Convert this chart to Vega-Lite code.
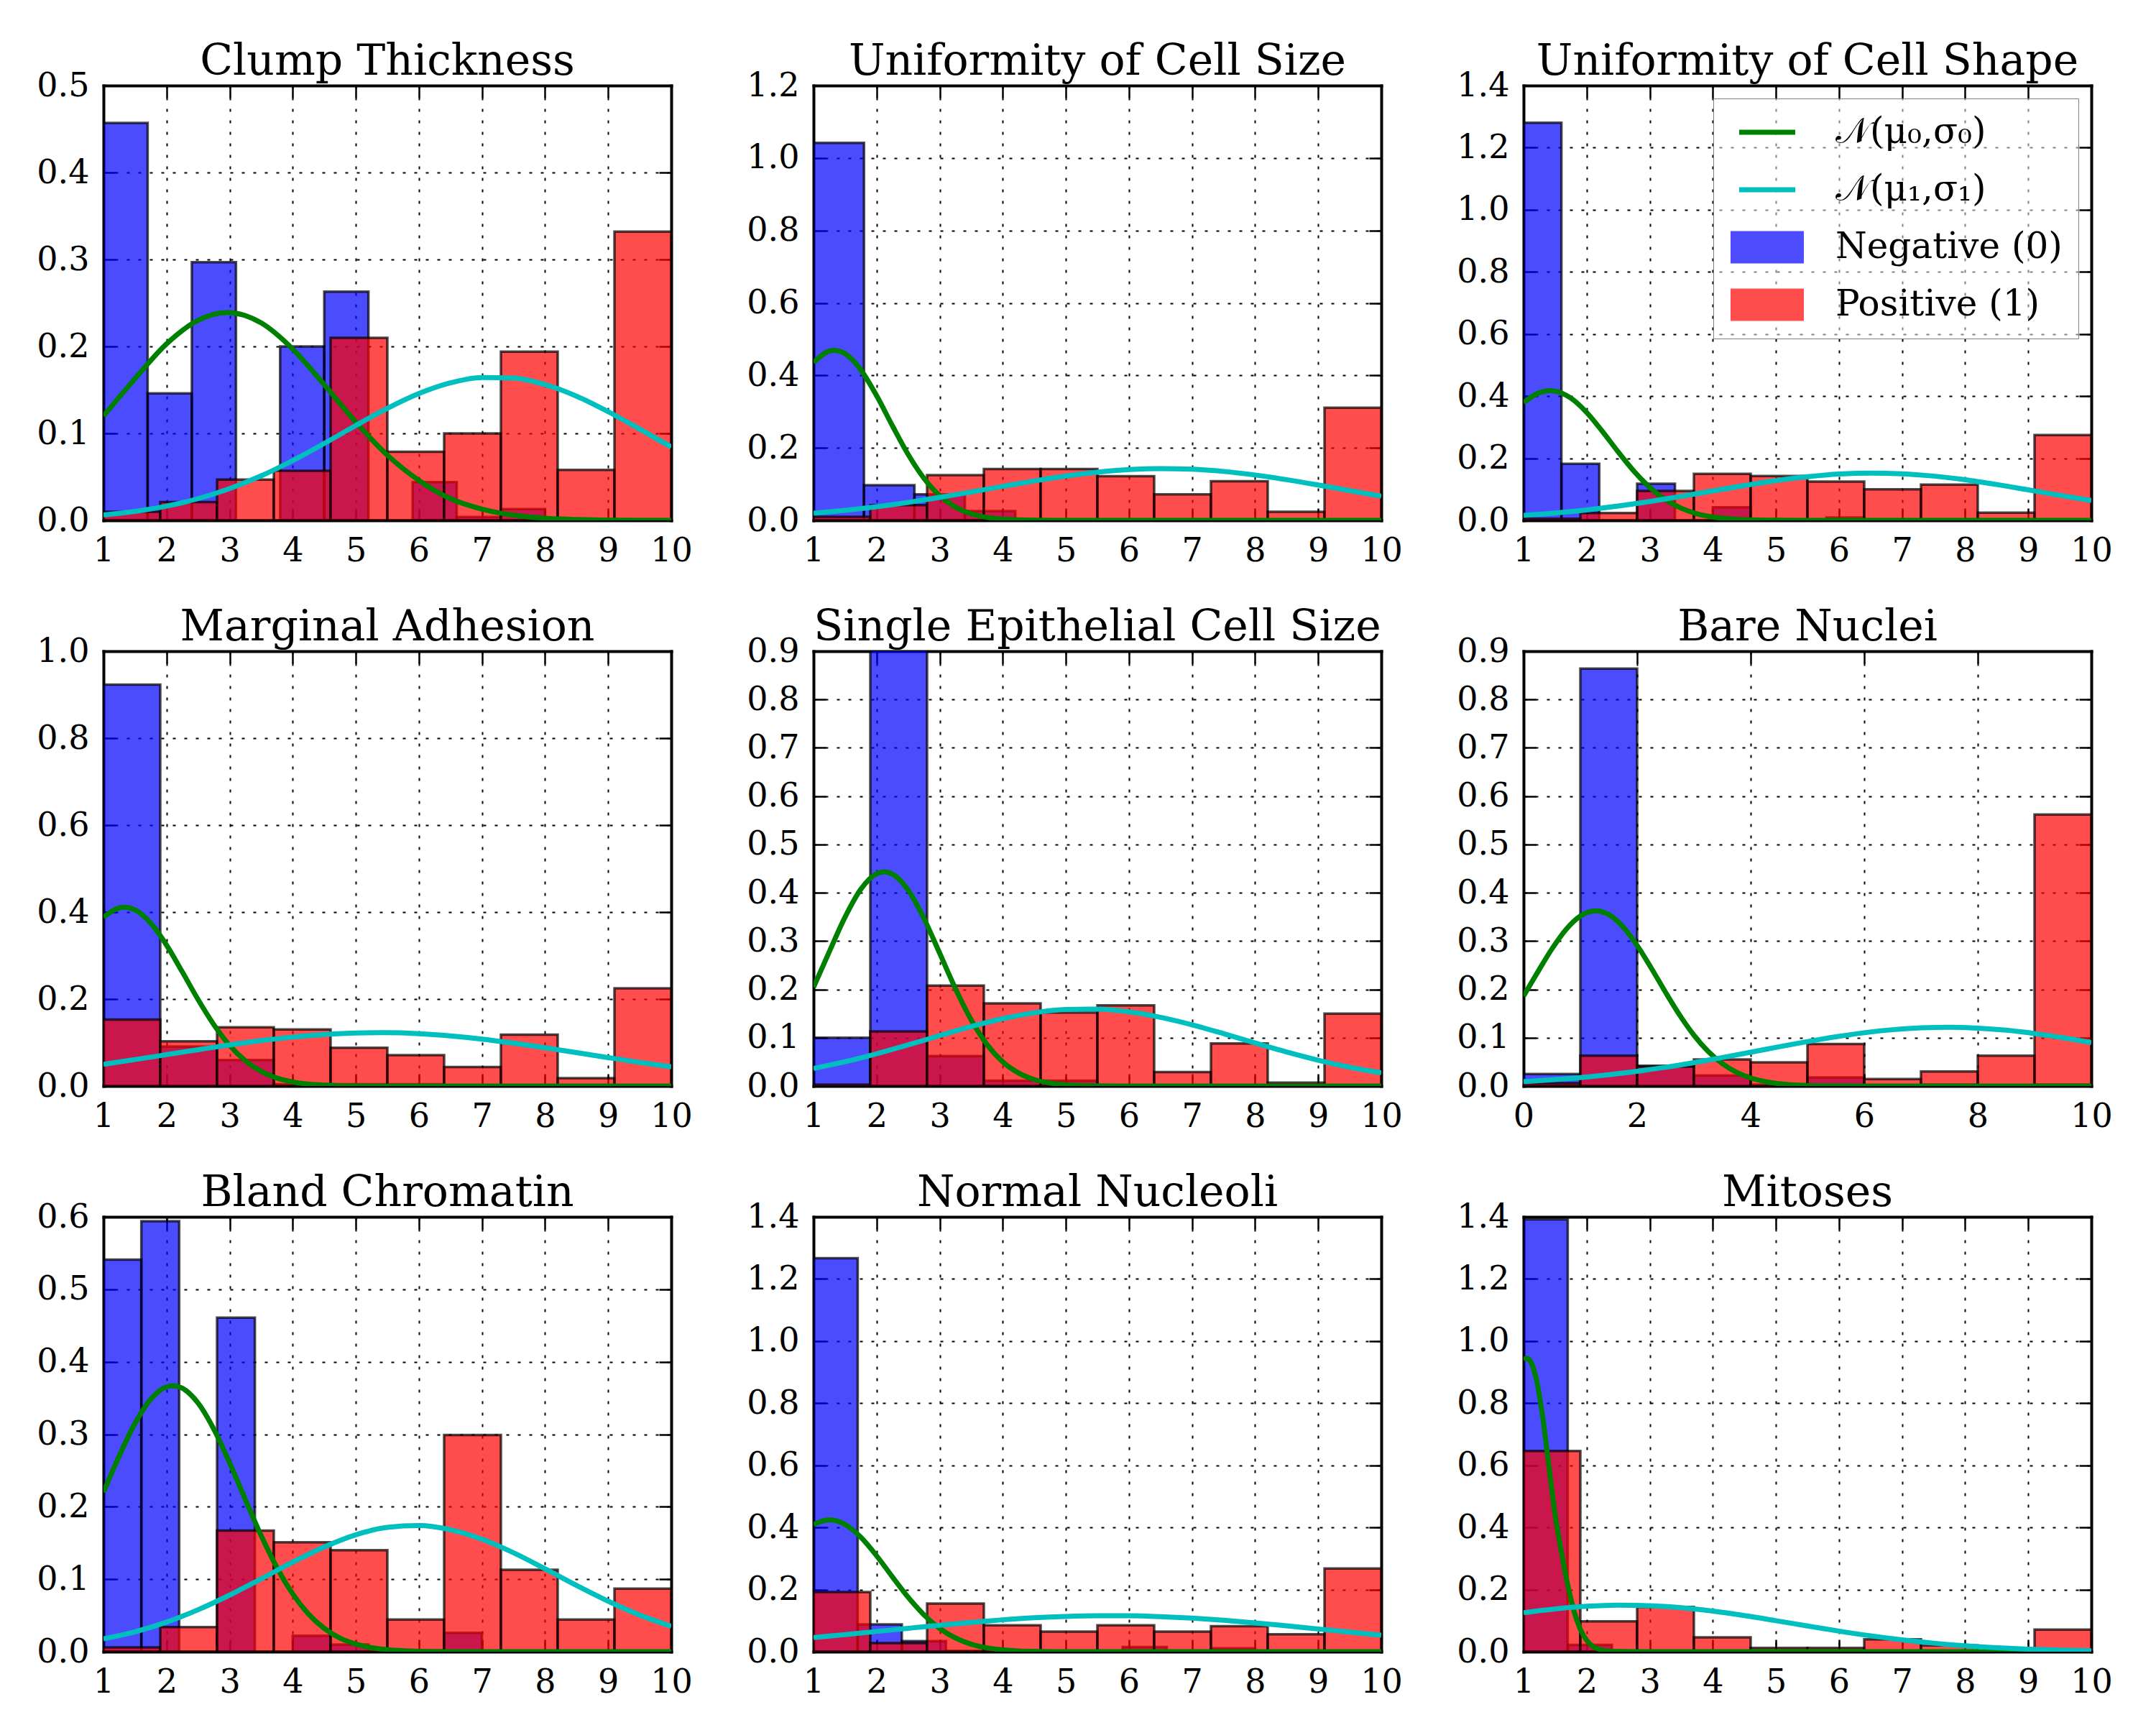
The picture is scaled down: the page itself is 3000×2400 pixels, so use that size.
{
  "$schema": "https://vega.github.io/schema/vega-lite/v6.json",
  "background": "white",
  "padding": {"left": 50, "top": 56, "right": 10, "bottom": 10},
  "columns": 3,
  "spacing": {"row": 182, "column": 198},
  "bounds": "flush",
  "resolve": {
    "scale": {"color": "independent", "shape": "independent", "x": "independent", "y": "independent"},
    "legend": {"color": "independent", "shape": "independent"}
  },
  "datasets": {
    "bars": [
      {"f": "ct", "cls": "Negative (0)", "a": 1, "b": 1.7, "v": 0.457},
      {"f": "ct", "cls": "Negative (0)", "a": 1.7, "b": 2.4, "v": 0.146},
      {"f": "ct", "cls": "Negative (0)", "a": 2.4, "b": 3.1, "v": 0.297},
      {"f": "ct", "cls": "Negative (0)", "a": 3.8, "b": 4.5, "v": 0.2},
      {"f": "ct", "cls": "Negative (0)", "a": 4.5, "b": 5.2, "v": 0.263},
      {"f": "ct", "cls": "Negative (0)", "a": 5.9, "b": 6.6, "v": 0.044},
      {"f": "ct", "cls": "Negative (0)", "a": 6.6, "b": 7.3, "v": 0.004},
      {"f": "ct", "cls": "Negative (0)", "a": 7.3, "b": 8.0, "v": 0.013},
      {"f": "ct", "cls": "Positive (1)", "a": 1, "b": 1.9, "v": 0.01},
      {"f": "ct", "cls": "Positive (1)", "a": 1.9, "b": 2.8, "v": 0.021},
      {"f": "ct", "cls": "Positive (1)", "a": 2.8, "b": 3.7, "v": 0.047},
      {"f": "ct", "cls": "Positive (1)", "a": 3.7, "b": 4.6, "v": 0.057},
      {"f": "ct", "cls": "Positive (1)", "a": 4.6, "b": 5.5, "v": 0.21},
      {"f": "ct", "cls": "Positive (1)", "a": 5.5, "b": 6.4, "v": 0.079},
      {"f": "ct", "cls": "Positive (1)", "a": 6.4, "b": 7.3, "v": 0.1},
      {"f": "ct", "cls": "Positive (1)", "a": 7.3, "b": 8.2, "v": 0.194},
      {"f": "ct", "cls": "Positive (1)", "a": 8.2, "b": 9.1, "v": 0.058},
      {"f": "ct", "cls": "Positive (1)", "a": 9.1, "b": 10, "v": 0.332},

      {"f": "usz", "cls": "Negative (0)", "a": 1, "b": 1.8, "v": 1.042},
      {"f": "usz", "cls": "Negative (0)", "a": 1.8, "b": 2.6, "v": 0.097},
      {"f": "usz", "cls": "Negative (0)", "a": 2.6, "b": 3.4, "v": 0.072},
      {"f": "usz", "cls": "Negative (0)", "a": 3.4, "b": 4.2, "v": 0.026},
      {"f": "usz", "cls": "Positive (1)", "a": 1, "b": 1.9, "v": 0.01},
      {"f": "usz", "cls": "Positive (1)", "a": 1.9, "b": 2.8, "v": 0.042},
      {"f": "usz", "cls": "Positive (1)", "a": 2.8, "b": 3.7, "v": 0.125},
      {"f": "usz", "cls": "Positive (1)", "a": 3.7, "b": 4.6, "v": 0.142},
      {"f": "usz", "cls": "Positive (1)", "a": 4.6, "b": 5.5, "v": 0.142},
      {"f": "usz", "cls": "Positive (1)", "a": 5.5, "b": 6.4, "v": 0.122},
      {"f": "usz", "cls": "Positive (1)", "a": 6.4, "b": 7.3, "v": 0.072},
      {"f": "usz", "cls": "Positive (1)", "a": 7.3, "b": 8.2, "v": 0.108},
      {"f": "usz", "cls": "Positive (1)", "a": 8.2, "b": 9.1, "v": 0.024},
      {"f": "usz", "cls": "Positive (1)", "a": 9.1, "b": 10, "v": 0.311},

      {"f": "ush", "cls": "Negative (0)", "a": 1, "b": 1.6, "v": 1.28},
      {"f": "ush", "cls": "Negative (0)", "a": 1.6, "b": 2.2, "v": 0.182},
      {"f": "ush", "cls": "Negative (0)", "a": 2.8, "b": 3.4, "v": 0.118},
      {"f": "ush", "cls": "Negative (0)", "a": 4.0, "b": 4.6, "v": 0.042},
      {"f": "ush", "cls": "Negative (0)", "a": 4.6, "b": 5.2, "v": 0.003},
      {"f": "ush", "cls": "Negative (0)", "a": 5.8, "b": 6.4, "v": 0.009},
      {"f": "ush", "cls": "Positive (1)", "a": 1, "b": 1.9, "v": 0.005},
      {"f": "ush", "cls": "Positive (1)", "a": 1.9, "b": 2.8, "v": 0.024},
      {"f": "ush", "cls": "Positive (1)", "a": 2.8, "b": 3.7, "v": 0.095},
      {"f": "ush", "cls": "Positive (1)", "a": 3.7, "b": 4.6, "v": 0.15},
      {"f": "ush", "cls": "Positive (1)", "a": 4.6, "b": 5.5, "v": 0.143},
      {"f": "ush", "cls": "Positive (1)", "a": 5.5, "b": 6.4, "v": 0.125},
      {"f": "ush", "cls": "Positive (1)", "a": 6.4, "b": 7.3, "v": 0.1},
      {"f": "ush", "cls": "Positive (1)", "a": 7.3, "b": 8.2, "v": 0.115},
      {"f": "ush", "cls": "Positive (1)", "a": 8.2, "b": 9.1, "v": 0.025},
      {"f": "ush", "cls": "Positive (1)", "a": 9.1, "b": 10, "v": 0.275},

      {"f": "ma", "cls": "Negative (0)", "a": 1, "b": 1.9, "v": 0.923},
      {"f": "ma", "cls": "Negative (0)", "a": 1.9, "b": 2.8, "v": 0.091},
      {"f": "ma", "cls": "Negative (0)", "a": 2.8, "b": 3.7, "v": 0.06},
      {"f": "ma", "cls": "Negative (0)", "a": 3.7, "b": 4.6, "v": 0.004},
      {"f": "ma", "cls": "Negative (0)", "a": 4.6, "b": 5.5, "v": 0.004},
      {"f": "ma", "cls": "Negative (0)", "a": 5.5, "b": 6.4, "v": 0.004},
      {"f": "ma", "cls": "Positive (1)", "a": 1, "b": 1.9, "v": 0.153},
      {"f": "ma", "cls": "Positive (1)", "a": 1.9, "b": 2.8, "v": 0.103},
      {"f": "ma", "cls": "Positive (1)", "a": 2.8, "b": 3.7, "v": 0.135},
      {"f": "ma", "cls": "Positive (1)", "a": 3.7, "b": 4.6, "v": 0.13},
      {"f": "ma", "cls": "Positive (1)", "a": 4.6, "b": 5.5, "v": 0.088},
      {"f": "ma", "cls": "Positive (1)", "a": 5.5, "b": 6.4, "v": 0.071},
      {"f": "ma", "cls": "Positive (1)", "a": 6.4, "b": 7.3, "v": 0.044},
      {"f": "ma", "cls": "Positive (1)", "a": 7.3, "b": 8.2, "v": 0.118},
      {"f": "ma", "cls": "Positive (1)", "a": 8.2, "b": 9.1, "v": 0.018},
      {"f": "ma", "cls": "Positive (1)", "a": 9.1, "b": 10, "v": 0.225},

      {"f": "se", "cls": "Negative (0)", "a": 1, "b": 1.9, "v": 0.1},
      {"f": "se", "cls": "Negative (0)", "a": 1.9, "b": 2.8, "v": 0.93},
      {"f": "se", "cls": "Negative (0)", "a": 2.8, "b": 3.7, "v": 0.062},
      {"f": "se", "cls": "Negative (0)", "a": 3.7, "b": 4.6, "v": 0.011},
      {"f": "se", "cls": "Negative (0)", "a": 4.6, "b": 5.5, "v": 0.011},
      {"f": "se", "cls": "Negative (0)", "a": 5.5, "b": 6.4, "v": 0.002},
      {"f": "se", "cls": "Positive (1)", "a": 1, "b": 1.9, "v": 0.003},
      {"f": "se", "cls": "Positive (1)", "a": 1.9, "b": 2.8, "v": 0.113},
      {"f": "se", "cls": "Positive (1)", "a": 2.8, "b": 3.7, "v": 0.208},
      {"f": "se", "cls": "Positive (1)", "a": 3.7, "b": 4.6, "v": 0.171},
      {"f": "se", "cls": "Positive (1)", "a": 4.6, "b": 5.5, "v": 0.152},
      {"f": "se", "cls": "Positive (1)", "a": 5.5, "b": 6.4, "v": 0.167},
      {"f": "se", "cls": "Positive (1)", "a": 6.4, "b": 7.3, "v": 0.029},
      {"f": "se", "cls": "Positive (1)", "a": 7.3, "b": 8.2, "v": 0.088},
      {"f": "se", "cls": "Positive (1)", "a": 8.2, "b": 9.1, "v": 0.007},
      {"f": "se", "cls": "Positive (1)", "a": 9.1, "b": 10, "v": 0.15},

      {"f": "bn", "cls": "Negative (0)", "a": 0, "b": 1, "v": 0.025},
      {"f": "bn", "cls": "Negative (0)", "a": 1, "b": 2, "v": 0.864},
      {"f": "bn", "cls": "Negative (0)", "a": 2, "b": 3, "v": 0.042},
      {"f": "bn", "cls": "Negative (0)", "a": 3, "b": 4, "v": 0.022},
      {"f": "bn", "cls": "Negative (0)", "a": 4, "b": 5, "v": 0.003},
      {"f": "bn", "cls": "Negative (0)", "a": 5, "b": 6, "v": 0.018},
      {"f": "bn", "cls": "Negative (0)", "a": 7, "b": 8, "v": 0.003},
      {"f": "bn", "cls": "Negative (0)", "a": 9, "b": 10, "v": 0.003},
      {"f": "bn", "cls": "Positive (1)", "a": 0, "b": 1, "v": 0.006},
      {"f": "bn", "cls": "Positive (1)", "a": 1, "b": 2, "v": 0.063},
      {"f": "bn", "cls": "Positive (1)", "a": 2, "b": 3, "v": 0.04},
      {"f": "bn", "cls": "Positive (1)", "a": 3, "b": 4, "v": 0.055},
      {"f": "bn", "cls": "Positive (1)", "a": 4, "b": 5, "v": 0.049},
      {"f": "bn", "cls": "Positive (1)", "a": 5, "b": 6, "v": 0.087},
      {"f": "bn", "cls": "Positive (1)", "a": 6, "b": 7, "v": 0.0145},
      {"f": "bn", "cls": "Positive (1)", "a": 7, "b": 8, "v": 0.03},
      {"f": "bn", "cls": "Positive (1)", "a": 8, "b": 9, "v": 0.063},
      {"f": "bn", "cls": "Positive (1)", "a": 9, "b": 10, "v": 0.562},

      {"f": "bc", "cls": "Negative (0)", "a": 1, "b": 1.6, "v": 0.541},
      {"f": "bc", "cls": "Negative (0)", "a": 1.6, "b": 2.2, "v": 0.594},
      {"f": "bc", "cls": "Negative (0)", "a": 2.8, "b": 3.4, "v": 0.461},
      {"f": "bc", "cls": "Negative (0)", "a": 4.0, "b": 4.6, "v": 0.022},
      {"f": "bc", "cls": "Negative (0)", "a": 4.6, "b": 5.2, "v": 0.01},
      {"f": "bc", "cls": "Negative (0)", "a": 5.8, "b": 6.4, "v": 0.002},
      {"f": "bc", "cls": "Negative (0)", "a": 6.4, "b": 7.0, "v": 0.026},
      {"f": "bc", "cls": "Positive (1)", "a": 1, "b": 1.9, "v": 0.006},
      {"f": "bc", "cls": "Positive (1)", "a": 1.9, "b": 2.8, "v": 0.034},
      {"f": "bc", "cls": "Positive (1)", "a": 2.8, "b": 3.7, "v": 0.167},
      {"f": "bc", "cls": "Positive (1)", "a": 3.7, "b": 4.6, "v": 0.151},
      {"f": "bc", "cls": "Positive (1)", "a": 4.6, "b": 5.5, "v": 0.14},
      {"f": "bc", "cls": "Positive (1)", "a": 5.5, "b": 6.4, "v": 0.0445},
      {"f": "bc", "cls": "Positive (1)", "a": 6.4, "b": 7.3, "v": 0.299},
      {"f": "bc", "cls": "Positive (1)", "a": 7.3, "b": 8.2, "v": 0.113},
      {"f": "bc", "cls": "Positive (1)", "a": 8.2, "b": 9.1, "v": 0.0445},
      {"f": "bc", "cls": "Positive (1)", "a": 9.1, "b": 10, "v": 0.087},

      {"f": "nn", "cls": "Negative (0)", "a": 1, "b": 1.7, "v": 1.267},
      {"f": "nn", "cls": "Negative (0)", "a": 1.7, "b": 2.4, "v": 0.088},
      {"f": "nn", "cls": "Negative (0)", "a": 2.4, "b": 3.1, "v": 0.034},
      {"f": "nn", "cls": "Negative (0)", "a": 3.1, "b": 3.8, "v": 0.003},
      {"f": "nn", "cls": "Negative (0)", "a": 5.9, "b": 6.6, "v": 0.015},
      {"f": "nn", "cls": "Negative (0)", "a": 7.3, "b": 8.0, "v": 0.011},
      {"f": "nn", "cls": "Positive (1)", "a": 1, "b": 1.9, "v": 0.192},
      {"f": "nn", "cls": "Positive (1)", "a": 1.9, "b": 2.8, "v": 0.028},
      {"f": "nn", "cls": "Positive (1)", "a": 2.8, "b": 3.7, "v": 0.155},
      {"f": "nn", "cls": "Positive (1)", "a": 3.7, "b": 4.6, "v": 0.085},
      {"f": "nn", "cls": "Positive (1)", "a": 4.6, "b": 5.5, "v": 0.065},
      {"f": "nn", "cls": "Positive (1)", "a": 5.5, "b": 6.4, "v": 0.085},
      {"f": "nn", "cls": "Positive (1)", "a": 6.4, "b": 7.3, "v": 0.065},
      {"f": "nn", "cls": "Positive (1)", "a": 7.3, "b": 8.2, "v": 0.082},
      {"f": "nn", "cls": "Positive (1)", "a": 8.2, "b": 9.1, "v": 0.056},
      {"f": "nn", "cls": "Positive (1)", "a": 9.1, "b": 10, "v": 0.268},

      {"f": "mi", "cls": "Negative (0)", "a": 1, "b": 1.7, "v": 1.392},
      {"f": "mi", "cls": "Negative (0)", "a": 1.7, "b": 2.4, "v": 0.022},
      {"f": "mi", "cls": "Positive (1)", "a": 1, "b": 1.9, "v": 0.646},
      {"f": "mi", "cls": "Positive (1)", "a": 1.9, "b": 2.8, "v": 0.098},
      {"f": "mi", "cls": "Positive (1)", "a": 2.8, "b": 3.7, "v": 0.144},
      {"f": "mi", "cls": "Positive (1)", "a": 3.7, "b": 4.6, "v": 0.046},
      {"f": "mi", "cls": "Positive (1)", "a": 4.6, "b": 5.5, "v": 0.0124},
      {"f": "mi", "cls": "Positive (1)", "a": 5.5, "b": 6.4, "v": 0.0124},
      {"f": "mi", "cls": "Positive (1)", "a": 6.4, "b": 7.3, "v": 0.04},
      {"f": "mi", "cls": "Positive (1)", "a": 7.3, "b": 8.2, "v": 0.02},
      {"f": "mi", "cls": "Positive (1)", "a": 9.1, "b": 10, "v": 0.071}
    ],
    "curves": [
      {"f": "ct", "c": "N0", "x": 1, "y": 0.12}, {"f": "ct", "c": "N0", "x": 1.5, "y": 0.163}, {"f": "ct", "c": "N0", "x": 2, "y": 0.203},
      {"f": "ct", "c": "N0", "x": 2.5, "y": 0.23}, {"f": "ct", "c": "N0", "x": 2.96, "y": 0.239}, {"f": "ct", "c": "N0", "x": 3.5, "y": 0.227},
      {"f": "ct", "c": "N0", "x": 4, "y": 0.197}, {"f": "ct", "c": "N0", "x": 4.5, "y": 0.156}, {"f": "ct", "c": "N0", "x": 5, "y": 0.113},
      {"f": "ct", "c": "N0", "x": 5.5, "y": 0.075}, {"f": "ct", "c": "N0", "x": 6, "y": 0.046}, {"f": "ct", "c": "N0", "x": 6.5, "y": 0.025},
      {"f": "ct", "c": "N0", "x": 7, "y": 0.013}, {"f": "ct", "c": "N0", "x": 7.5, "y": 0.006}, {"f": "ct", "c": "N0", "x": 8, "y": 0.0025},
      {"f": "ct", "c": "N0", "x": 8.5, "y": 0.001}, {"f": "ct", "c": "N0", "x": 9, "y": 0.0003}, {"f": "ct", "c": "N0", "x": 10, "y": 0},
      {"f": "ct", "c": "N1", "x": 1, "y": 0.0062}, {"f": "ct", "c": "N1", "x": 1.5, "y": 0.0103}, {"f": "ct", "c": "N1", "x": 2, "y": 0.0164},
      {"f": "ct", "c": "N1", "x": 2.5, "y": 0.025}, {"f": "ct", "c": "N1", "x": 3, "y": 0.0366}, {"f": "ct", "c": "N1", "x": 3.5, "y": 0.0512},
      {"f": "ct", "c": "N1", "x": 4, "y": 0.0688}, {"f": "ct", "c": "N1", "x": 4.5, "y": 0.0885}, {"f": "ct", "c": "N1", "x": 5, "y": 0.1091},
      {"f": "ct", "c": "N1", "x": 5.5, "y": 0.1288}, {"f": "ct", "c": "N1", "x": 6, "y": 0.1458}, {"f": "ct", "c": "N1", "x": 6.5, "y": 0.1581},
      {"f": "ct", "c": "N1", "x": 7, "y": 0.1643}, {"f": "ct", "c": "N1", "x": 7.5, "y": 0.1636}, {"f": "ct", "c": "N1", "x": 8, "y": 0.1561},
      {"f": "ct", "c": "N1", "x": 8.5, "y": 0.1428}, {"f": "ct", "c": "N1", "x": 9, "y": 0.125}, {"f": "ct", "c": "N1", "x": 9.5, "y": 0.105},
      {"f": "ct", "c": "N1", "x": 10, "y": 0.0844},

      {"f": "usz", "c": "N0", "x": 1, "y": 0.4352}, {"f": "usz", "c": "N0", "x": 1.25, "y": 0.4672}, {"f": "usz", "c": "N0", "x": 1.33, "y": 0.4693},
      {"f": "usz", "c": "N0", "x": 1.5, "y": 0.46}, {"f": "usz", "c": "N0", "x": 1.75, "y": 0.4154}, {"f": "usz", "c": "N0", "x": 2, "y": 0.344},
      {"f": "usz", "c": "N0", "x": 2.25, "y": 0.2613}, {"f": "usz", "c": "N0", "x": 2.5, "y": 0.182}, {"f": "usz", "c": "N0", "x": 2.75, "y": 0.1162},
      {"f": "usz", "c": "N0", "x": 3, "y": 0.0681}, {"f": "usz", "c": "N0", "x": 3.25, "y": 0.0366}, {"f": "usz", "c": "N0", "x": 3.5, "y": 0.018},
      {"f": "usz", "c": "N0", "x": 3.75, "y": 0.0082}, {"f": "usz", "c": "N0", "x": 4, "y": 0.0034}, {"f": "usz", "c": "N0", "x": 4.5, "y": 0.0004},
      {"f": "usz", "c": "N0", "x": 5, "y": 0}, {"f": "usz", "c": "N0", "x": 10, "y": 0},
      {"f": "usz", "c": "N1", "x": 1, "y": 0.0196}, {"f": "usz", "c": "N1", "x": 1.5, "y": 0.0276}, {"f": "usz", "c": "N1", "x": 2, "y": 0.0376},
      {"f": "usz", "c": "N1", "x": 2.5, "y": 0.0496}, {"f": "usz", "c": "N1", "x": 3, "y": 0.0634}, {"f": "usz", "c": "N1", "x": 3.5, "y": 0.0784},
      {"f": "usz", "c": "N1", "x": 4, "y": 0.0939}, {"f": "usz", "c": "N1", "x": 4.5, "y": 0.1089}, {"f": "usz", "c": "N1", "x": 5, "y": 0.1223},
      {"f": "usz", "c": "N1", "x": 5.5, "y": 0.133}, {"f": "usz", "c": "N1", "x": 6, "y": 0.1401}, {"f": "usz", "c": "N1", "x": 6.5, "y": 0.143},
      {"f": "usz", "c": "N1", "x": 7, "y": 0.1412}, {"f": "usz", "c": "N1", "x": 7.5, "y": 0.1351}, {"f": "usz", "c": "N1", "x": 8, "y": 0.1252},
      {"f": "usz", "c": "N1", "x": 8.5, "y": 0.1123}, {"f": "usz", "c": "N1", "x": 9, "y": 0.0976}, {"f": "usz", "c": "N1", "x": 9.5, "y": 0.0821},
      {"f": "usz", "c": "N1", "x": 10, "y": 0.0669},

      {"f": "ush", "c": "N0", "x": 1, "y": 0.3792}, {"f": "ush", "c": "N0", "x": 1.25, "y": 0.4111}, {"f": "ush", "c": "N0", "x": 1.42, "y": 0.4177},
      {"f": "ush", "c": "N0", "x": 1.5, "y": 0.4162}, {"f": "ush", "c": "N0", "x": 1.75, "y": 0.3935}, {"f": "ush", "c": "N0", "x": 2, "y": 0.3474},
      {"f": "ush", "c": "N0", "x": 2.25, "y": 0.2863}, {"f": "ush", "c": "N0", "x": 2.5, "y": 0.2204}, {"f": "ush", "c": "N0", "x": 2.75, "y": 0.1584},
      {"f": "ush", "c": "N0", "x": 3, "y": 0.1063}, {"f": "ush", "c": "N0", "x": 3.25, "y": 0.0666}, {"f": "ush", "c": "N0", "x": 3.5, "y": 0.039},
      {"f": "ush", "c": "N0", "x": 3.75, "y": 0.0213}, {"f": "ush", "c": "N0", "x": 4, "y": 0.0109}, {"f": "ush", "c": "N0", "x": 4.25, "y": 0.0052},
      {"f": "ush", "c": "N0", "x": 4.5, "y": 0.0023}, {"f": "ush", "c": "N0", "x": 5, "y": 0.0004}, {"f": "ush", "c": "N0", "x": 5.5, "y": 0},
      {"f": "ush", "c": "N0", "x": 10, "y": 0},
      {"f": "ush", "c": "N1", "x": 1, "y": 0.0162}, {"f": "ush", "c": "N1", "x": 1.5, "y": 0.0238}, {"f": "ush", "c": "N1", "x": 2, "y": 0.0337},
      {"f": "ush", "c": "N1", "x": 2.5, "y": 0.0461}, {"f": "ush", "c": "N1", "x": 3, "y": 0.0608}, {"f": "ush", "c": "N1", "x": 3.5, "y": 0.0774},
      {"f": "ush", "c": "N1", "x": 4, "y": 0.0949}, {"f": "ush", "c": "N1", "x": 4.5, "y": 0.1121}, {"f": "ush", "c": "N1", "x": 5, "y": 0.1279},
      {"f": "ush", "c": "N1", "x": 5.5, "y": 0.1405}, {"f": "ush", "c": "N1", "x": 6, "y": 0.149}, {"f": "ush", "c": "N1", "x": 6.5, "y": 0.1523},
      {"f": "ush", "c": "N1", "x": 7, "y": 0.1501}, {"f": "ush", "c": "N1", "x": 7.5, "y": 0.1426}, {"f": "ush", "c": "N1", "x": 8, "y": 0.1307},
      {"f": "ush", "c": "N1", "x": 8.5, "y": 0.1154}, {"f": "ush", "c": "N1", "x": 9, "y": 0.0984}, {"f": "ush", "c": "N1", "x": 9.5, "y": 0.0808},
      {"f": "ush", "c": "N1", "x": 10, "y": 0.064},

      {"f": "ma", "c": "N0", "x": 1, "y": 0.3882}, {"f": "ma", "c": "N0", "x": 1.25, "y": 0.4099}, {"f": "ma", "c": "N0", "x": 1.33, "y": 0.4113},
      {"f": "ma", "c": "N0", "x": 1.5, "y": 0.405}, {"f": "ma", "c": "N0", "x": 1.75, "y": 0.3745}, {"f": "ma", "c": "N0", "x": 2, "y": 0.324},
      {"f": "ma", "c": "N0", "x": 2.25, "y": 0.2623}, {"f": "ma", "c": "N0", "x": 2.5, "y": 0.1987}, {"f": "ma", "c": "N0", "x": 2.75, "y": 0.1409},
      {"f": "ma", "c": "N0", "x": 3, "y": 0.0934}, {"f": "ma", "c": "N0", "x": 3.25, "y": 0.058}, {"f": "ma", "c": "N0", "x": 3.5, "y": 0.0337},
      {"f": "ma", "c": "N0", "x": 3.75, "y": 0.0183}, {"f": "ma", "c": "N0", "x": 4, "y": 0.0093}, {"f": "ma", "c": "N0", "x": 4.25, "y": 0.0044},
      {"f": "ma", "c": "N0", "x": 4.5, "y": 0.002}, {"f": "ma", "c": "N0", "x": 5, "y": 0.0003}, {"f": "ma", "c": "N0", "x": 5.5, "y": 0},
      {"f": "ma", "c": "N0", "x": 10, "y": 0},
      {"f": "ma", "c": "N1", "x": 1, "y": 0.0501}, {"f": "ma", "c": "N1", "x": 1.5, "y": 0.0609}, {"f": "ma", "c": "N1", "x": 2, "y": 0.0722},
      {"f": "ma", "c": "N1", "x": 2.5, "y": 0.0836}, {"f": "ma", "c": "N1", "x": 3, "y": 0.0946}, {"f": "ma", "c": "N1", "x": 3.5, "y": 0.1044},
      {"f": "ma", "c": "N1", "x": 4, "y": 0.1126}, {"f": "ma", "c": "N1", "x": 4.5, "y": 0.1187}, {"f": "ma", "c": "N1", "x": 5, "y": 0.1221},
      {"f": "ma", "c": "N1", "x": 5.5, "y": 0.1227}, {"f": "ma", "c": "N1", "x": 6, "y": 0.1204}, {"f": "ma", "c": "N1", "x": 6.5, "y": 0.1153},
      {"f": "ma", "c": "N1", "x": 7, "y": 0.108}, {"f": "ma", "c": "N1", "x": 7.5, "y": 0.0987}, {"f": "ma", "c": "N1", "x": 8, "y": 0.0881},
      {"f": "ma", "c": "N1", "x": 8.5, "y": 0.0768}, {"f": "ma", "c": "N1", "x": 9, "y": 0.0654}, {"f": "ma", "c": "N1", "x": 9.5, "y": 0.0543},
      {"f": "ma", "c": "N1", "x": 10, "y": 0.0441},

      {"f": "se", "c": "N0", "x": 1, "y": 0.2044}, {"f": "se", "c": "N0", "x": 1.25, "y": 0.2779}, {"f": "se", "c": "N0", "x": 1.5, "y": 0.3497},
      {"f": "se", "c": "N0", "x": 1.75, "y": 0.4074}, {"f": "se", "c": "N0", "x": 2, "y": 0.4394}, {"f": "se", "c": "N0", "x": 2.12, "y": 0.4433},
      {"f": "se", "c": "N0", "x": 2.25, "y": 0.4387}, {"f": "se", "c": "N0", "x": 2.5, "y": 0.4055}, {"f": "se", "c": "N0", "x": 2.75, "y": 0.347},
      {"f": "se", "c": "N0", "x": 3, "y": 0.2748}, {"f": "se", "c": "N0", "x": 3.25, "y": 0.2016}, {"f": "se", "c": "N0", "x": 3.5, "y": 0.1368},
      {"f": "se", "c": "N0", "x": 3.75, "y": 0.086}, {"f": "se", "c": "N0", "x": 4, "y": 0.05}, {"f": "se", "c": "N0", "x": 4.25, "y": 0.027},
      {"f": "se", "c": "N0", "x": 4.5, "y": 0.0134}, {"f": "se", "c": "N0", "x": 4.75, "y": 0.0062}, {"f": "se", "c": "N0", "x": 5, "y": 0.0026},
      {"f": "se", "c": "N0", "x": 5.5, "y": 0.0004}, {"f": "se", "c": "N0", "x": 6, "y": 0}, {"f": "se", "c": "N0", "x": 10, "y": 0},
      {"f": "se", "c": "N1", "x": 1, "y": 0.0364}, {"f": "se", "c": "N1", "x": 1.5, "y": 0.0503}, {"f": "se", "c": "N1", "x": 2, "y": 0.0668},
      {"f": "se", "c": "N1", "x": 2.5, "y": 0.0852}, {"f": "se", "c": "N1", "x": 3, "y": 0.1045}, {"f": "se", "c": "N1", "x": 3.5, "y": 0.1232},
      {"f": "se", "c": "N1", "x": 4, "y": 0.1394}, {"f": "se", "c": "N1", "x": 4.5, "y": 0.1516}, {"f": "se", "c": "N1", "x": 5, "y": 0.1585},
      {"f": "se", "c": "N1", "x": 5.5, "y": 0.1591}, {"f": "se", "c": "N1", "x": 6, "y": 0.1535}, {"f": "se", "c": "N1", "x": 6.5, "y": 0.1422},
      {"f": "se", "c": "N1", "x": 7, "y": 0.1267}, {"f": "se", "c": "N1", "x": 7.5, "y": 0.1084}, {"f": "se", "c": "N1", "x": 8, "y": 0.0891},
      {"f": "se", "c": "N1", "x": 8.5, "y": 0.0704}, {"f": "se", "c": "N1", "x": 9, "y": 0.0534}, {"f": "se", "c": "N1", "x": 9.5, "y": 0.0389},
      {"f": "se", "c": "N1", "x": 10, "y": 0.0273},

      {"f": "bn", "c": "N0", "x": 0, "y": 0.1862}, {"f": "bn", "c": "N0", "x": 0.25, "y": 0.236}, {"f": "bn", "c": "N0", "x": 0.5, "y": 0.2839},
      {"f": "bn", "c": "N0", "x": 0.75, "y": 0.3244}, {"f": "bn", "c": "N0", "x": 1, "y": 0.3519}, {"f": "bn", "c": "N0", "x": 1.27, "y": 0.3627},
      {"f": "bn", "c": "N0", "x": 1.5, "y": 0.3549}, {"f": "bn", "c": "N0", "x": 1.75, "y": 0.3298}, {"f": "bn", "c": "N0", "x": 2, "y": 0.291},
      {"f": "bn", "c": "N0", "x": 2.25, "y": 0.2439}, {"f": "bn", "c": "N0", "x": 2.5, "y": 0.1941}, {"f": "bn", "c": "N0", "x": 2.75, "y": 0.1467},
      {"f": "bn", "c": "N0", "x": 3, "y": 0.1053}, {"f": "bn", "c": "N0", "x": 3.25, "y": 0.0718}, {"f": "bn", "c": "N0", "x": 3.5, "y": 0.0465},
      {"f": "bn", "c": "N0", "x": 3.75, "y": 0.0286}, {"f": "bn", "c": "N0", "x": 4, "y": 0.0167}, {"f": "bn", "c": "N0", "x": 4.25, "y": 0.0093},
      {"f": "bn", "c": "N0", "x": 4.5, "y": 0.0049}, {"f": "bn", "c": "N0", "x": 5, "y": 0.0012}, {"f": "bn", "c": "N0", "x": 5.5, "y": 0.0002},
      {"f": "bn", "c": "N0", "x": 6, "y": 0}, {"f": "bn", "c": "N0", "x": 10, "y": 0},
      {"f": "bn", "c": "N1", "x": 0, "y": 0.0092}, {"f": "bn", "c": "N1", "x": 0.5, "y": 0.0129}, {"f": "bn", "c": "N1", "x": 1, "y": 0.0176},
      {"f": "bn", "c": "N1", "x": 1.5, "y": 0.0235}, {"f": "bn", "c": "N1", "x": 2, "y": 0.0306}, {"f": "bn", "c": "N1", "x": 2.5, "y": 0.0389},
      {"f": "bn", "c": "N1", "x": 3, "y": 0.0484}, {"f": "bn", "c": "N1", "x": 3.5, "y": 0.0589}, {"f": "bn", "c": "N1", "x": 4, "y": 0.0699},
      {"f": "bn", "c": "N1", "x": 4.5, "y": 0.0812}, {"f": "bn", "c": "N1", "x": 5, "y": 0.092}, {"f": "bn", "c": "N1", "x": 5.5, "y": 0.1019},
      {"f": "bn", "c": "N1", "x": 6, "y": 0.1103}, {"f": "bn", "c": "N1", "x": 6.5, "y": 0.1166}, {"f": "bn", "c": "N1", "x": 7, "y": 0.1205},
      {"f": "bn", "c": "N1", "x": 7.5, "y": 0.1216}, {"f": "bn", "c": "N1", "x": 8, "y": 0.1199}, {"f": "bn", "c": "N1", "x": 8.5, "y": 0.1155},
      {"f": "bn", "c": "N1", "x": 9, "y": 0.1087}, {"f": "bn", "c": "N1", "x": 9.5, "y": 0.1}, {"f": "bn", "c": "N1", "x": 10, "y": 0.0899},

      {"f": "bc", "c": "N0", "x": 1, "y": 0.2199}, {"f": "bc", "c": "N0", "x": 1.25, "y": 0.2703}, {"f": "bc", "c": "N0", "x": 1.5, "y": 0.3151},
      {"f": "bc", "c": "N0", "x": 1.75, "y": 0.3485}, {"f": "bc", "c": "N0", "x": 2, "y": 0.3655}, {"f": "bc", "c": "N0", "x": 2.1, "y": 0.367},
      {"f": "bc", "c": "N0", "x": 2.25, "y": 0.3635}, {"f": "bc", "c": "N0", "x": 2.5, "y": 0.343}, {"f": "bc", "c": "N0", "x": 2.75, "y": 0.3069},
      {"f": "bc", "c": "N0", "x": 3, "y": 0.2605}, {"f": "bc", "c": "N0", "x": 3.25, "y": 0.2097}, {"f": "bc", "c": "N0", "x": 3.5, "y": 0.1601},
      {"f": "bc", "c": "N0", "x": 3.75, "y": 0.116}, {"f": "bc", "c": "N0", "x": 4, "y": 0.0797}, {"f": "bc", "c": "N0", "x": 4.25, "y": 0.0519},
      {"f": "bc", "c": "N0", "x": 4.5, "y": 0.0321}, {"f": "bc", "c": "N0", "x": 4.75, "y": 0.0188}, {"f": "bc", "c": "N0", "x": 5, "y": 0.0105},
      {"f": "bc", "c": "N0", "x": 5.25, "y": 0.0055}, {"f": "bc", "c": "N0", "x": 5.5, "y": 0.0028}, {"f": "bc", "c": "N0", "x": 6, "y": 0.0006},
      {"f": "bc", "c": "N0", "x": 6.5, "y": 0.0001}, {"f": "bc", "c": "N0", "x": 7, "y": 0}, {"f": "bc", "c": "N0", "x": 10, "y": 0},
      {"f": "bc", "c": "N1", "x": 1, "y": 0.0177}, {"f": "bc", "c": "N1", "x": 1.5, "y": 0.0275}, {"f": "bc", "c": "N1", "x": 2, "y": 0.0408},
      {"f": "bc", "c": "N1", "x": 2.5, "y": 0.0579}, {"f": "bc", "c": "N1", "x": 3, "y": 0.0781}, {"f": "bc", "c": "N1", "x": 3.5, "y": 0.1006},
      {"f": "bc", "c": "N1", "x": 4, "y": 0.1235}, {"f": "bc", "c": "N1", "x": 4.5, "y": 0.1445}, {"f": "bc", "c": "N1", "x": 5, "y": 0.1613},
      {"f": "bc", "c": "N1", "x": 5.5, "y": 0.1716}, {"f": "bc", "c": "N1", "x": 6, "y": 0.174}, {"f": "bc", "c": "N1", "x": 6.5, "y": 0.1683},
      {"f": "bc", "c": "N1", "x": 7, "y": 0.1552}, {"f": "bc", "c": "N1", "x": 7.5, "y": 0.1365}, {"f": "bc", "c": "N1", "x": 8, "y": 0.1144},
      {"f": "bc", "c": "N1", "x": 8.5, "y": 0.0914}, {"f": "bc", "c": "N1", "x": 9, "y": 0.0697}, {"f": "bc", "c": "N1", "x": 9.5, "y": 0.0506},
      {"f": "bc", "c": "N1", "x": 10, "y": 0.0351},

      {"f": "nn", "c": "N0", "x": 1, "y": 0.4096}, {"f": "nn", "c": "N0", "x": 1.25, "y": 0.4244}, {"f": "nn", "c": "N0", "x": 1.5, "y": 0.4096},
      {"f": "nn", "c": "N0", "x": 1.75, "y": 0.3684}, {"f": "nn", "c": "N0", "x": 2, "y": 0.3087}, {"f": "nn", "c": "N0", "x": 2.25, "y": 0.241},
      {"f": "nn", "c": "N0", "x": 2.5, "y": 0.1753}, {"f": "nn", "c": "N0", "x": 2.75, "y": 0.1188}, {"f": "nn", "c": "N0", "x": 3, "y": 0.075},
      {"f": "nn", "c": "N0", "x": 3.25, "y": 0.0441}, {"f": "nn", "c": "N0", "x": 3.5, "y": 0.0242}, {"f": "nn", "c": "N0", "x": 3.75, "y": 0.0124},
      {"f": "nn", "c": "N0", "x": 4, "y": 0.0059}, {"f": "nn", "c": "N0", "x": 4.25, "y": 0.0026}, {"f": "nn", "c": "N0", "x": 4.5, "y": 0.0011},
      {"f": "nn", "c": "N0", "x": 5, "y": 0.0001}, {"f": "nn", "c": "N0", "x": 5.5, "y": 0}, {"f": "nn", "c": "N0", "x": 10, "y": 0},
      {"f": "nn", "c": "N1", "x": 1, "y": 0.0456}, {"f": "nn", "c": "N1", "x": 1.5, "y": 0.0551}, {"f": "nn", "c": "N1", "x": 2, "y": 0.0651},
      {"f": "nn", "c": "N1", "x": 2.5, "y": 0.0753}, {"f": "nn", "c": "N1", "x": 3, "y": 0.0852}, {"f": "nn", "c": "N1", "x": 3.5, "y": 0.0945},
      {"f": "nn", "c": "N1", "x": 4, "y": 0.1027}, {"f": "nn", "c": "N1", "x": 4.5, "y": 0.1092}, {"f": "nn", "c": "N1", "x": 5, "y": 0.1136},
      {"f": "nn", "c": "N1", "x": 5.5, "y": 0.1158}, {"f": "nn", "c": "N1", "x": 6, "y": 0.1156}, {"f": "nn", "c": "N1", "x": 6.5, "y": 0.1129},
      {"f": "nn", "c": "N1", "x": 7, "y": 0.108}, {"f": "nn", "c": "N1", "x": 7.5, "y": 0.1012}, {"f": "nn", "c": "N1", "x": 8, "y": 0.0928},
      {"f": "nn", "c": "N1", "x": 8.5, "y": 0.0833}, {"f": "nn", "c": "N1", "x": 9, "y": 0.0732}, {"f": "nn", "c": "N1", "x": 9.5, "y": 0.063},
      {"f": "nn", "c": "N1", "x": 10, "y": 0.0531},

      {"f": "mi", "c": "N0", "x": 1, "y": 0.94}, {"f": "mi", "c": "N0", "x": 1.05, "y": 0.945}, {"f": "mi", "c": "N0", "x": 1.1, "y": 0.938},
      {"f": "mi", "c": "N0", "x": 1.2, "y": 0.88}, {"f": "mi", "c": "N0", "x": 1.3, "y": 0.76}, {"f": "mi", "c": "N0", "x": 1.4, "y": 0.6},
      {"f": "mi", "c": "N0", "x": 1.5, "y": 0.44}, {"f": "mi", "c": "N0", "x": 1.6, "y": 0.32}, {"f": "mi", "c": "N0", "x": 1.7, "y": 0.215},
      {"f": "mi", "c": "N0", "x": 1.8, "y": 0.13}, {"f": "mi", "c": "N0", "x": 1.9, "y": 0.072}, {"f": "mi", "c": "N0", "x": 2, "y": 0.037},
      {"f": "mi", "c": "N0", "x": 2.1, "y": 0.017}, {"f": "mi", "c": "N0", "x": 2.2, "y": 0.0075}, {"f": "mi", "c": "N0", "x": 2.4, "y": 0.001},
      {"f": "mi", "c": "N0", "x": 2.8, "y": 0}, {"f": "mi", "c": "N0", "x": 10, "y": 0},
      {"f": "mi", "c": "N1", "x": 1, "y": 0.1252}, {"f": "mi", "c": "N1", "x": 1.5, "y": 0.1377}, {"f": "mi", "c": "N1", "x": 2, "y": 0.1462},
      {"f": "mi", "c": "N1", "x": 2.5, "y": 0.1499}, {"f": "mi", "c": "N1", "x": 3, "y": 0.1483}, {"f": "mi", "c": "N1", "x": 3.5, "y": 0.1417},
      {"f": "mi", "c": "N1", "x": 4, "y": 0.1306}, {"f": "mi", "c": "N1", "x": 4.5, "y": 0.1162}, {"f": "mi", "c": "N1", "x": 5, "y": 0.0998},
      {"f": "mi", "c": "N1", "x": 5.5, "y": 0.0828}, {"f": "mi", "c": "N1", "x": 6, "y": 0.0663}, {"f": "mi", "c": "N1", "x": 6.5, "y": 0.0512},
      {"f": "mi", "c": "N1", "x": 7, "y": 0.0382}, {"f": "mi", "c": "N1", "x": 7.5, "y": 0.0275}, {"f": "mi", "c": "N1", "x": 8, "y": 0.0191},
      {"f": "mi", "c": "N1", "x": 8.5, "y": 0.0128}, {"f": "mi", "c": "N1", "x": 9, "y": 0.0083}, {"f": "mi", "c": "N1", "x": 9.5, "y": 0.0052},
      {"f": "mi", "c": "N1", "x": 10, "y": 0.0031}
    ]
  },
  "concat": [
    {
      "title": "Clump Thickness", "width": 790, "height": 605,
      "layer": [
        {"data": {"name": "bars"}, "transform": [{"filter": "datum.f == 'ct'"}],
         "mark": {"type": "rect", "fillOpacity": 0.7, "stroke": "black", "strokeOpacity": 0.7, "strokeWidth": 3.5, "clip": true},
         "encoding": {
           "x": {"field": "a", "type": "quantitative", "scale": {"domain": [1, 10]}, "axis": {"orient": "bottom", "title": null, "values": [1,2,3,4,5,6,7,8,9,10], "format": "d", "grid": true}},
           "x2": {"field": "b"},
           "y": {"field": "v", "type": "quantitative", "scale": {"domain": [0, 0.5]}, "axis": {"orient": "left", "title": null, "values": [0,0.1,0.2,0.3,0.4,0.5], "format": ".1f", "grid": true}},
           "y2": {"datum": 0},
           "color": {"field": "cls", "type": "nominal", "scale": {"domain": ["N0","N1","Negative (0)","Positive (1)"], "range": ["#008000","#00bfbf","#0000ff","#ff0000"]}, "legend": null}}},
        {"data": {"name": "curves"}, "transform": [{"filter": "datum.f == 'ct'"}],
         "mark": {"type": "line", "strokeWidth": 7, "interpolate": "monotone", "clip": true},
         "encoding": {
           "x": {"field": "x", "type": "quantitative", "axis": {"orient": "top", "title": null, "values": [1,2,3,4,5,6,7,8,9,10], "labels": false, "grid": false}},
           "y": {"field": "y", "type": "quantitative", "axis": {"orient": "right", "title": null, "values": [0,0.1,0.2,0.3,0.4,0.5], "labels": false, "grid": false}},
           "color": {"field": "c", "type": "nominal", "legend": null}}}
      ],
      "resolve": {"axis": {"x": "independent", "y": "independent"}}
    },
    {
      "title": "Uniformity of Cell Size", "width": 790, "height": 605,
      "layer": [
        {"data": {"name": "bars"}, "transform": [{"filter": "datum.f == 'usz'"}],
         "mark": {"type": "rect", "fillOpacity": 0.7, "stroke": "black", "strokeOpacity": 0.7, "strokeWidth": 3.5, "clip": true},
         "encoding": {
           "x": {"field": "a", "type": "quantitative", "scale": {"domain": [1, 10]}, "axis": {"orient": "bottom", "title": null, "values": [1,2,3,4,5,6,7,8,9,10], "format": "d", "grid": true}},
           "x2": {"field": "b"},
           "y": {"field": "v", "type": "quantitative", "scale": {"domain": [0, 1.2]}, "axis": {"orient": "left", "title": null, "values": [0,0.2,0.4,0.6,0.8,1.0,1.2], "format": ".1f", "grid": true}},
           "y2": {"datum": 0},
           "color": {"field": "cls", "type": "nominal", "scale": {"domain": ["N0","N1","Negative (0)","Positive (1)"], "range": ["#008000","#00bfbf","#0000ff","#ff0000"]}, "legend": null}}},
        {"data": {"name": "curves"}, "transform": [{"filter": "datum.f == 'usz'"}],
         "mark": {"type": "line", "strokeWidth": 7, "interpolate": "monotone", "clip": true},
         "encoding": {
           "x": {"field": "x", "type": "quantitative", "axis": {"orient": "top", "title": null, "values": [1,2,3,4,5,6,7,8,9,10], "labels": false, "grid": false}},
           "y": {"field": "y", "type": "quantitative", "axis": {"orient": "right", "title": null, "values": [0,0.2,0.4,0.6,0.8,1.0,1.2], "labels": false, "grid": false}},
           "color": {"field": "c", "type": "nominal", "legend": null}}}
      ],
      "resolve": {"axis": {"x": "independent", "y": "independent"}}
    },
    {
      "title": "Uniformity of Cell Shape", "width": 790, "height": 605,
      "layer": [
        {"data": {"name": "bars"}, "transform": [{"filter": "datum.f == 'ush'"}],
         "mark": {"type": "rect", "fillOpacity": 0.7, "stroke": "black", "strokeOpacity": 0.7, "strokeWidth": 3.5, "clip": true},
         "encoding": {
           "x": {"field": "a", "type": "quantitative", "scale": {"domain": [1, 10]}, "axis": {"orient": "bottom", "title": null, "values": [1,2,3,4,5,6,7,8,9,10], "format": "d", "grid": true}},
           "x2": {"field": "b"},
           "y": {"field": "v", "type": "quantitative", "scale": {"domain": [0, 1.4]}, "axis": {"orient": "left", "title": null, "values": [0,0.2,0.4,0.6,0.8,1.0,1.2,1.4], "format": ".1f", "grid": true}},
           "y2": {"datum": 0},
           "color": {"field": "cls", "type": "nominal", "scale": {"domain": ["N0","N1","Negative (0)","Positive (1)"], "range": ["#008000","#00bfbf","#0000ff","#ff0000"]}, "legend": null}}},
        {"data": {"name": "curves"}, "transform": [{"filter": "datum.f == 'ush'"}],
         "mark": {"type": "line", "strokeWidth": 7, "interpolate": "monotone", "clip": true},
         "encoding": {
           "x": {"field": "x", "type": "quantitative", "axis": {"orient": "top", "title": null, "values": [1,2,3,4,5,6,7,8,9,10], "labels": false, "grid": false}},
           "y": {"field": "y", "type": "quantitative", "axis": {"orient": "right", "title": null, "values": [0,0.2,0.4,0.6,0.8,1.0,1.2,1.4], "labels": false, "grid": false}},
           "color": {"field": "c", "type": "nominal", "scale": {"domain": ["N0","N1","Negative (0)","Positive (1)"], "range": ["#008000","#00bfbf","#0000ff","#ff0000"]}, "legend": null}}},
        {"data": {"name": "curves"}, "transform": [{"filter": "datum.f == 'ush'"}],
         "mark": {"type": "point", "filled": true, "opacity": 0},
         "encoding": {
           "x": {"field": "x", "type": "quantitative", "axis": null},
           "y": {"field": "y", "type": "quantitative", "axis": null},
           "color": {"field": "c", "type": "nominal",
             "scale": {"domain": ["N0","N1","Negative (0)","Positive (1)"], "range": ["#008000","#00bfbf","#4d4dff","#ff4d4d"]},
             "legend": {"orient": "top-right", "offset": 18, "title": null, "labelFont": "DejaVu Serif", "labelFontSize": 50, "labelColor": "black", "labelLimit": 0,
               "labelExpr": "datum.value == 'N0' ? '𝒩(μ₀,σ₀)' : datum.value == 'N1' ? '𝒩(μ₁,σ₁)' : datum.label",
               "symbolSize": 1936, "symbolOffset": 28, "labelOffset": 70, "rowPadding": 30, "padding": 22, "symbolOpacity": 1, "symbolStrokeWidth": 0,
               "fillColor": "rgba(255,255,255,0.5)", "strokeColor": "#808080", "zindex": 3}},
           "shape": {"field": "c", "type": "nominal",
             "scale": {"domain": ["N0","N1","Negative (0)","Positive (1)"], "range": ["M-1.773,-0.16H1.773V0.16H-1.773Z","M-1.773,-0.16H1.773V0.16H-1.773Z","M-2.318,-1.023H2.318V1.023H-2.318Z","M-2.318,-1.023H2.318V1.023H-2.318Z"]},
             "legend": {"orient": "top-right", "offset": 18, "title": null, "labelFont": "DejaVu Serif", "labelFontSize": 50, "labelColor": "black", "labelLimit": 0,
               "labelExpr": "datum.value == 'N0' ? '𝒩(μ₀,σ₀)' : datum.value == 'N1' ? '𝒩(μ₁,σ₁)' : datum.label",
               "symbolSize": 1936, "symbolOffset": 28, "labelOffset": 70, "rowPadding": 30, "padding": 22, "symbolOpacity": 1, "symbolStrokeWidth": 0,
               "fillColor": "rgba(255,255,255,0.5)", "strokeColor": "#808080", "zindex": 3}}}}
      ],
      "resolve": {
        "axis": {"x": "independent", "y": "independent"},
        "scale": {"color": "independent", "shape": "independent"},
        "legend": {"color": "independent", "shape": "independent"}
      }
    },
    {
      "title": "Marginal Adhesion", "width": 790, "height": 605,
      "layer": [
        {"data": {"name": "bars"}, "transform": [{"filter": "datum.f == 'ma'"}],
         "mark": {"type": "rect", "fillOpacity": 0.7, "stroke": "black", "strokeOpacity": 0.7, "strokeWidth": 3.5, "clip": true},
         "encoding": {
           "x": {"field": "a", "type": "quantitative", "scale": {"domain": [1, 10]}, "axis": {"orient": "bottom", "title": null, "values": [1,2,3,4,5,6,7,8,9,10], "format": "d", "grid": true}},
           "x2": {"field": "b"},
           "y": {"field": "v", "type": "quantitative", "scale": {"domain": [0, 1.0]}, "axis": {"orient": "left", "title": null, "values": [0,0.2,0.4,0.6,0.8,1.0], "format": ".1f", "grid": true}},
           "y2": {"datum": 0},
           "color": {"field": "cls", "type": "nominal", "scale": {"domain": ["N0","N1","Negative (0)","Positive (1)"], "range": ["#008000","#00bfbf","#0000ff","#ff0000"]}, "legend": null}}},
        {"data": {"name": "curves"}, "transform": [{"filter": "datum.f == 'ma'"}],
         "mark": {"type": "line", "strokeWidth": 7, "interpolate": "monotone", "clip": true},
         "encoding": {
           "x": {"field": "x", "type": "quantitative", "axis": {"orient": "top", "title": null, "values": [1,2,3,4,5,6,7,8,9,10], "labels": false, "grid": false}},
           "y": {"field": "y", "type": "quantitative", "axis": {"orient": "right", "title": null, "values": [0,0.2,0.4,0.6,0.8,1.0], "labels": false, "grid": false}},
           "color": {"field": "c", "type": "nominal", "legend": null}}}
      ],
      "resolve": {"axis": {"x": "independent", "y": "independent"}}
    },
    {
      "title": "Single Epithelial Cell Size", "width": 790, "height": 605,
      "layer": [
        {"data": {"name": "bars"}, "transform": [{"filter": "datum.f == 'se'"}],
         "mark": {"type": "rect", "fillOpacity": 0.7, "stroke": "black", "strokeOpacity": 0.7, "strokeWidth": 3.5, "clip": true},
         "encoding": {
           "x": {"field": "a", "type": "quantitative", "scale": {"domain": [1, 10]}, "axis": {"orient": "bottom", "title": null, "values": [1,2,3,4,5,6,7,8,9,10], "format": "d", "grid": true}},
           "x2": {"field": "b"},
           "y": {"field": "v", "type": "quantitative", "scale": {"domain": [0, 0.9]}, "axis": {"orient": "left", "title": null, "values": [0,0.1,0.2,0.3,0.4,0.5,0.6,0.7,0.8,0.9], "format": ".1f", "grid": true}},
           "y2": {"datum": 0},
           "color": {"field": "cls", "type": "nominal", "scale": {"domain": ["N0","N1","Negative (0)","Positive (1)"], "range": ["#008000","#00bfbf","#0000ff","#ff0000"]}, "legend": null}}},
        {"data": {"name": "curves"}, "transform": [{"filter": "datum.f == 'se'"}],
         "mark": {"type": "line", "strokeWidth": 7, "interpolate": "monotone", "clip": true},
         "encoding": {
           "x": {"field": "x", "type": "quantitative", "axis": {"orient": "top", "title": null, "values": [1,2,3,4,5,6,7,8,9,10], "labels": false, "grid": false}},
           "y": {"field": "y", "type": "quantitative", "axis": {"orient": "right", "title": null, "values": [0,0.1,0.2,0.3,0.4,0.5,0.6,0.7,0.8,0.9], "labels": false, "grid": false}},
           "color": {"field": "c", "type": "nominal", "legend": null}}}
      ],
      "resolve": {"axis": {"x": "independent", "y": "independent"}}
    },
    {
      "title": "Bare Nuclei", "width": 790, "height": 605,
      "layer": [
        {"data": {"name": "bars"}, "transform": [{"filter": "datum.f == 'bn'"}],
         "mark": {"type": "rect", "fillOpacity": 0.7, "stroke": "black", "strokeOpacity": 0.7, "strokeWidth": 3.5, "clip": true},
         "encoding": {
           "x": {"field": "a", "type": "quantitative", "scale": {"domain": [0, 10]}, "axis": {"orient": "bottom", "title": null, "values": [0,2,4,6,8,10], "format": "d", "grid": true}},
           "x2": {"field": "b"},
           "y": {"field": "v", "type": "quantitative", "scale": {"domain": [0, 0.9]}, "axis": {"orient": "left", "title": null, "values": [0,0.1,0.2,0.3,0.4,0.5,0.6,0.7,0.8,0.9], "format": ".1f", "grid": true}},
           "y2": {"datum": 0},
           "color": {"field": "cls", "type": "nominal", "scale": {"domain": ["N0","N1","Negative (0)","Positive (1)"], "range": ["#008000","#00bfbf","#0000ff","#ff0000"]}, "legend": null}}},
        {"data": {"name": "curves"}, "transform": [{"filter": "datum.f == 'bn'"}],
         "mark": {"type": "line", "strokeWidth": 7, "interpolate": "monotone", "clip": true},
         "encoding": {
           "x": {"field": "x", "type": "quantitative", "axis": {"orient": "top", "title": null, "values": [0,2,4,6,8,10], "labels": false, "grid": false}},
           "y": {"field": "y", "type": "quantitative", "axis": {"orient": "right", "title": null, "values": [0,0.1,0.2,0.3,0.4,0.5,0.6,0.7,0.8,0.9], "labels": false, "grid": false}},
           "color": {"field": "c", "type": "nominal", "legend": null}}}
      ],
      "resolve": {"axis": {"x": "independent", "y": "independent"}}
    },
    {
      "title": "Bland Chromatin", "width": 790, "height": 605,
      "layer": [
        {"data": {"name": "bars"}, "transform": [{"filter": "datum.f == 'bc'"}],
         "mark": {"type": "rect", "fillOpacity": 0.7, "stroke": "black", "strokeOpacity": 0.7, "strokeWidth": 3.5, "clip": true},
         "encoding": {
           "x": {"field": "a", "type": "quantitative", "scale": {"domain": [1, 10]}, "axis": {"orient": "bottom", "title": null, "values": [1,2,3,4,5,6,7,8,9,10], "format": "d", "grid": true}},
           "x2": {"field": "b"},
           "y": {"field": "v", "type": "quantitative", "scale": {"domain": [0, 0.6]}, "axis": {"orient": "left", "title": null, "values": [0,0.1,0.2,0.3,0.4,0.5,0.6], "format": ".1f", "grid": true}},
           "y2": {"datum": 0},
           "color": {"field": "cls", "type": "nominal", "scale": {"domain": ["N0","N1","Negative (0)","Positive (1)"], "range": ["#008000","#00bfbf","#0000ff","#ff0000"]}, "legend": null}}},
        {"data": {"name": "curves"}, "transform": [{"filter": "datum.f == 'bc'"}],
         "mark": {"type": "line", "strokeWidth": 7, "interpolate": "monotone", "clip": true},
         "encoding": {
           "x": {"field": "x", "type": "quantitative", "axis": {"orient": "top", "title": null, "values": [1,2,3,4,5,6,7,8,9,10], "labels": false, "grid": false}},
           "y": {"field": "y", "type": "quantitative", "axis": {"orient": "right", "title": null, "values": [0,0.1,0.2,0.3,0.4,0.5,0.6], "labels": false, "grid": false}},
           "color": {"field": "c", "type": "nominal", "legend": null}}}
      ],
      "resolve": {"axis": {"x": "independent", "y": "independent"}}
    },
    {
      "title": "Normal Nucleoli", "width": 790, "height": 605,
      "layer": [
        {"data": {"name": "bars"}, "transform": [{"filter": "datum.f == 'nn'"}],
         "mark": {"type": "rect", "fillOpacity": 0.7, "stroke": "black", "strokeOpacity": 0.7, "strokeWidth": 3.5, "clip": true},
         "encoding": {
           "x": {"field": "a", "type": "quantitative", "scale": {"domain": [1, 10]}, "axis": {"orient": "bottom", "title": null, "values": [1,2,3,4,5,6,7,8,9,10], "format": "d", "grid": true}},
           "x2": {"field": "b"},
           "y": {"field": "v", "type": "quantitative", "scale": {"domain": [0, 1.4]}, "axis": {"orient": "left", "title": null, "values": [0,0.2,0.4,0.6,0.8,1.0,1.2,1.4], "format": ".1f", "grid": true}},
           "y2": {"datum": 0},
           "color": {"field": "cls", "type": "nominal", "scale": {"domain": ["N0","N1","Negative (0)","Positive (1)"], "range": ["#008000","#00bfbf","#0000ff","#ff0000"]}, "legend": null}}},
        {"data": {"name": "curves"}, "transform": [{"filter": "datum.f == 'nn'"}],
         "mark": {"type": "line", "strokeWidth": 7, "interpolate": "monotone", "clip": true},
         "encoding": {
           "x": {"field": "x", "type": "quantitative", "axis": {"orient": "top", "title": null, "values": [1,2,3,4,5,6,7,8,9,10], "labels": false, "grid": false}},
           "y": {"field": "y", "type": "quantitative", "axis": {"orient": "right", "title": null, "values": [0,0.2,0.4,0.6,0.8,1.0,1.2,1.4], "labels": false, "grid": false}},
           "color": {"field": "c", "type": "nominal", "legend": null}}}
      ],
      "resolve": {"axis": {"x": "independent", "y": "independent"}}
    },
    {
      "title": "Mitoses", "width": 790, "height": 605,
      "layer": [
        {"data": {"name": "bars"}, "transform": [{"filter": "datum.f == 'mi'"}],
         "mark": {"type": "rect", "fillOpacity": 0.7, "stroke": "black", "strokeOpacity": 0.7, "strokeWidth": 3.5, "clip": true},
         "encoding": {
           "x": {"field": "a", "type": "quantitative", "scale": {"domain": [1, 10]}, "axis": {"orient": "bottom", "title": null, "values": [1,2,3,4,5,6,7,8,9,10], "format": "d", "grid": true}},
           "x2": {"field": "b"},
           "y": {"field": "v", "type": "quantitative", "scale": {"domain": [0, 1.4]}, "axis": {"orient": "left", "title": null, "values": [0,0.2,0.4,0.6,0.8,1.0,1.2,1.4], "format": ".1f", "grid": true}},
           "y2": {"datum": 0},
           "color": {"field": "cls", "type": "nominal", "scale": {"domain": ["N0","N1","Negative (0)","Positive (1)"], "range": ["#008000","#00bfbf","#0000ff","#ff0000"]}, "legend": null}}},
        {"data": {"name": "curves"}, "transform": [{"filter": "datum.f == 'mi'"}],
         "mark": {"type": "line", "strokeWidth": 7, "interpolate": "monotone", "clip": true},
         "encoding": {
           "x": {"field": "x", "type": "quantitative", "axis": {"orient": "top", "title": null, "values": [1,2,3,4,5,6,7,8,9,10], "labels": false, "grid": false}},
           "y": {"field": "y", "type": "quantitative", "axis": {"orient": "right", "title": null, "values": [0,0.2,0.4,0.6,0.8,1.0,1.2,1.4], "labels": false, "grid": false}},
           "color": {"field": "c", "type": "nominal", "legend": null}}}
      ],
      "resolve": {"axis": {"x": "independent", "y": "independent"}}
    }
  ],
  "config": {
    "view": {"stroke": null},
    "font": "DejaVu Serif",
    "axis": {
      "labelFont": "DejaVu Serif", "labelFontSize": 46, "labelColor": "black",
      "domainColor": "black", "domainWidth": 4, "domainCap": "square",
      "tickColor": "black", "tickWidth": 2.5, "tickSize": -17, "labelPadding": 37,
      "gridColor": "black", "gridDash": [4, 12], "gridWidth": 2, "gridOpacity": 1,
      "zindex": 1, "labelFlush": false, "labelOverlap": false, "labelBound": false
    },
    "title": {"font": "DejaVu Serif", "fontSize": 60, "fontWeight": "normal", "color": "black", "anchor": "middle", "baseline": "alphabetic", "offset": -21, "frame": "group"}
  }
}
